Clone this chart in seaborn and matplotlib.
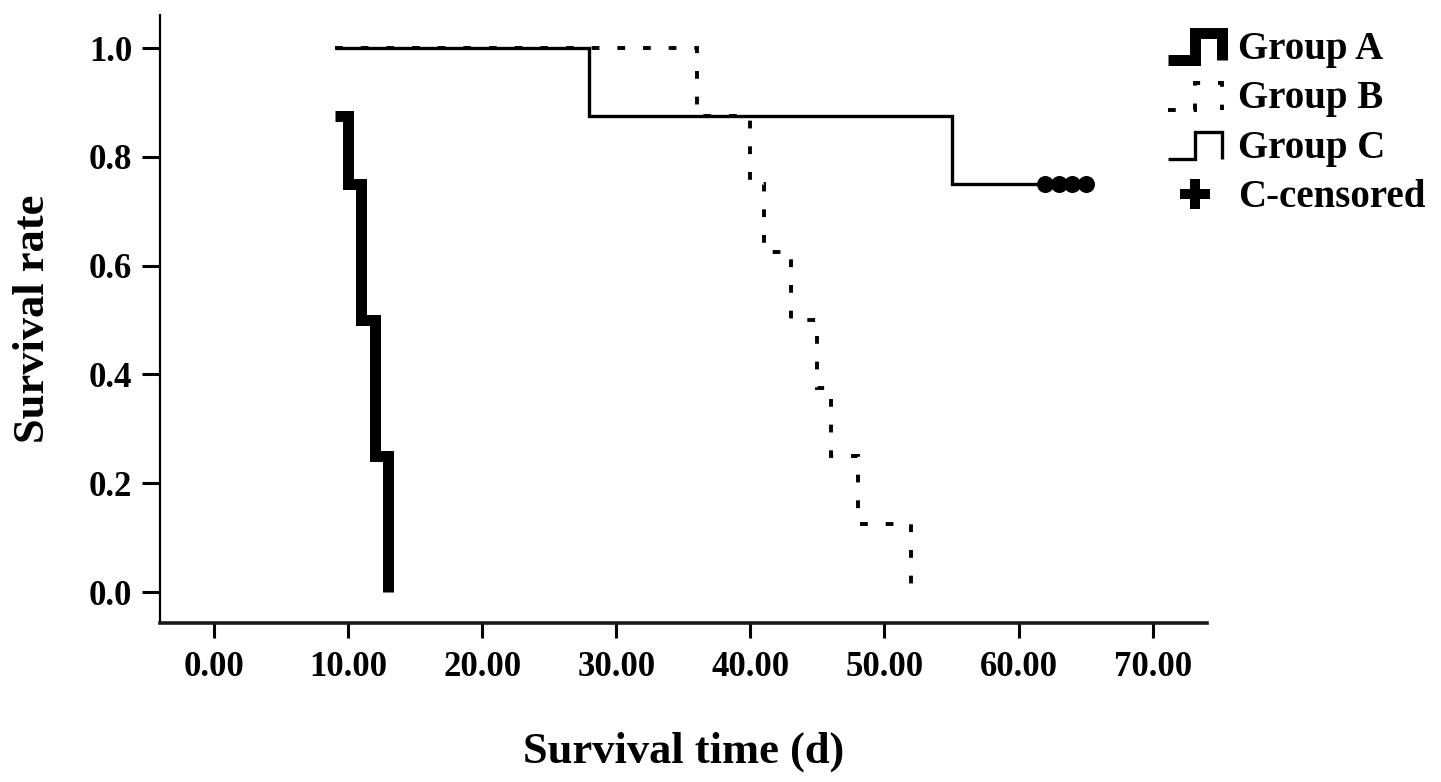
import matplotlib
matplotlib.use("Agg")
import matplotlib.pyplot as plt
import pandas as pd
import seaborn as sns
from matplotlib.legend_handler import HandlerBase
from matplotlib.lines import Line2D

# Kaplan-Meier step points (time in days, survival rate)
times_a = [9, 10, 11, 12, 13]
surv_a = [0.875, 0.75, 0.5, 0.25, 0.0]

times_b = [9, 36, 40, 41, 43, 45, 46, 48, 52]
surv_b = [1.0, 0.875, 0.75, 0.625, 0.5, 0.375, 0.25, 0.125, 0.0]

times_c = [9, 28, 55, 65]
surv_c = [1.0, 0.875, 0.75, 0.75]

censor_times_c = [62, 63, 64, 65]
censor_surv_c = [0.75, 0.75, 0.75, 0.75]

x_ticks = [0, 10, 20, 30, 40, 50, 60, 70]
y_ticks = [0.0, 0.2, 0.4, 0.6, 0.8, 1.0]


class StepHandler(HandlerBase):
    # draws the little "_|‾|" step icon used in the legend
    def create_artists(self, legend, orig_handle, xdescent, ydescent,
                       width, height, fontsize, trans):
        x0 = -xdescent
        x1 = x0 + width
        xm = x0 + 0.5 * width
        y0 = -ydescent - 0.05 * height
        y1 = -ydescent + 0.95 * height
        line = Line2D([x0, xm, xm, x1, x1], [y0, y0, y1, y1, y0])
        self.update_prop(line, orig_handle, legend)
        line.set_transform(trans)
        return [line]


sns.set_theme(style="white")
plt.rcParams["font.family"] = ["Liberation Serif", "DejaVu Serif"]
plt.rcParams["font.weight"] = "bold"
plt.rcParams["text.color"] = "black"
plt.rcParams["axes.labelcolor"] = "black"
plt.rcParams["xtick.color"] = "black"
plt.rcParams["ytick.color"] = "black"

fig = plt.figure(figsize=(14.41, 7.82), dpi=100)
ax = fig.add_axes([0.111, 0.2033, 0.7266, 0.7775])

df_a = pd.DataFrame({"time": times_a, "surv": surv_a})
df_b = pd.DataFrame({"time": times_b, "surv": surv_b})
df_c = pd.DataFrame({"time": times_c, "surv": surv_c})
df_cc = pd.DataFrame({"time": censor_times_c, "surv": censor_surv_c})

sns.lineplot(data=df_b, x="time", y="surv", ax=ax, color="black",
             drawstyle="steps-post", estimator=None, sort=False,
             linewidth=2.8, zorder=2)
ax.lines[-1].set_dashes((2.0, 4.6))
sns.lineplot(data=df_c, x="time", y="surv", ax=ax, color="black",
             drawstyle="steps-post", estimator=None, sort=False,
             linewidth=2.4, zorder=3)
sns.lineplot(data=df_a, x="time", y="surv", ax=ax, color="black",
             drawstyle="steps-post", estimator=None, sort=False,
             linewidth=7.9, zorder=4)
for ln in ax.lines:
    ln.set_solid_joinstyle("miter")
    ln.set_dash_joinstyle("miter")
    ln.set_solid_capstyle("butt")
    ln.set_dash_capstyle("butt")
line_b, line_c, line_a = ax.lines[0], ax.lines[1], ax.lines[2]

# censored marks look like merged blobs in the original
sns.scatterplot(data=df_cc, x="time", y="surv", ax=ax, color="black",
                marker="o", s=150, linewidth=0, zorder=5)

ax.set_xlim(-4.03, 74.05)
ax.set_ylim(-0.057, 1.061)
ax.set_xticks(x_ticks)
ax.set_xticklabels([f"{t:.2f}" for t in x_ticks])
ax.set_yticks(y_ticks)
ax.set_yticklabels([f"{t:.1f}" for t in y_ticks])

for side in ["top", "right"]:
    ax.spines[side].set_visible(False)
ax.spines["left"].set_linewidth(1.6)
ax.spines["left"].set_color("black")
ax.spines["bottom"].set_linewidth(2.6)
ax.spines["bottom"].set_color("#1a1a1a")

ax.tick_params(axis="x", direction="out", length=11, width=2.2,
               pad=9, labelsize=25, color="black", bottom=True)
ax.tick_params(axis="y", direction="out", length=13, width=2.2,
               pad=7, labelsize=25, color="black", left=True)
for lab in ax.get_xticklabels() + ax.get_yticklabels():
    lab.set_fontweight("bold")

ax.set_xlabel("Survival time (d)", fontsize=32, fontweight="bold", labelpad=34)
ax.set_ylabel("Survival rate", fontsize=32, fontweight="bold", labelpad=26)
ax.grid(False)

censor_handle = Line2D([], [], color="black", marker="P", markersize=21,
                       markeredgewidth=0, linestyle="none")
fig.legend([line_a, line_b, line_c, censor_handle],
           ["Group A", "Group B", "Group C", "C-censored"],
           handler_map={line_a: StepHandler(), line_b: StepHandler(),
                        line_c: StepHandler()},
           loc="upper left", bbox_to_anchor=(1168 / 1441, 1 - 31 / 782),
           frameon=False, handlelength=1.4, handletextpad=0.4,
           labelspacing=0.32, borderpad=0, borderaxespad=0,
           prop={"family": "Liberation Serif", "weight": "bold", "size": 28})

fig.savefig("out.png", dpi=100, facecolor="white")
